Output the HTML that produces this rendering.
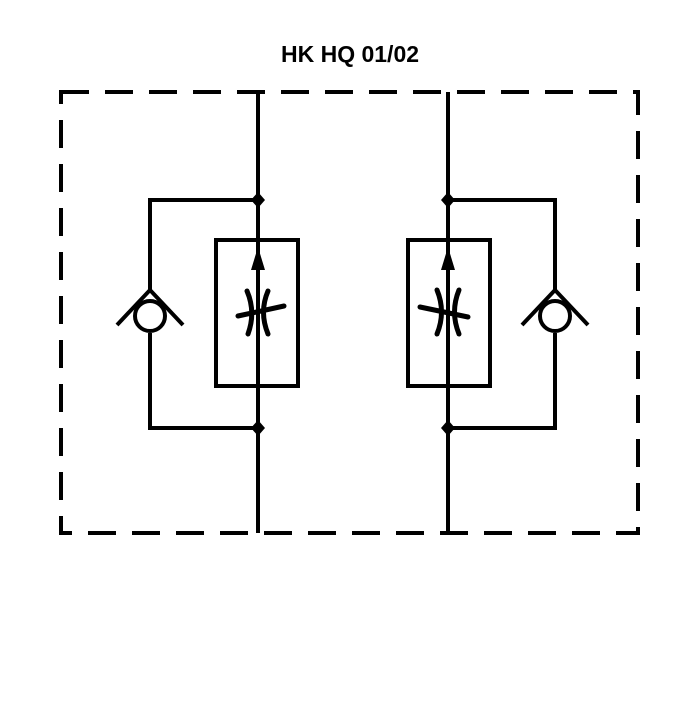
<!DOCTYPE html>
<html><head><style>html,body{margin:0;padding:0;background:#fff}</style></head>
<body>
<svg width="700" height="700" viewBox="0 0 700 700" xmlns="http://www.w3.org/2000/svg">
<rect width="700" height="700" fill="#fff"/>
<text x="350" y="62" text-anchor="middle" font-family="Liberation Sans, sans-serif" font-weight="bold" font-size="23" fill="#000">HK HQ 01/02</text>
<g fill="none" stroke="#000" stroke-width="4">
<rect x="61" y="92" width="577" height="441" stroke-dasharray="28 16"/>
<!-- left -->
<line x1="258" y1="92" x2="258" y2="533"/>
<polyline points="258,200 150,200 150,290"/>
<polyline points="150,333 150,428 258,428"/>
<rect x="216" y="240" width="82" height="146"/>
<circle cx="150" cy="316" r="15"/>
<polyline points="117,325 150,290 183,325"/>
<!-- right -->
<line x1="448" y1="92" x2="448" y2="533"/>
<polyline points="448,200 555,200 555,290"/>
<polyline points="555,333 555,428 448,428"/>
<rect x="408" y="240" width="82" height="146"/>
<circle cx="555" cy="316" r="15"/>
<polyline points="522,325 555,290 588,325"/>
</g>
<g fill="none" stroke="#000" stroke-width="5" stroke-linecap="round">
<path d="M238,316 L284,306 M247,291 Q256,312 248,334 M268,291 Q259,312 268,334"/>
<path d="M420,307 L468,317 M437,290 Q446,312 437,334 M459,290 Q450,312 459,334"/>
</g>
<g fill="#000">
<polygon points="258,192 265,200 258,208 251,200"/>
<polygon points="258,420 265,428 258,436 251,428"/>
<polygon points="448,192 455,200 448,208 441,200"/>
<polygon points="448,420 455,428 448,436 441,428"/>
<polygon points="258,247 251,270 265,270"/>
<polygon points="448,247 441,270 455,270"/>
</g>
</svg>
</body></html>
